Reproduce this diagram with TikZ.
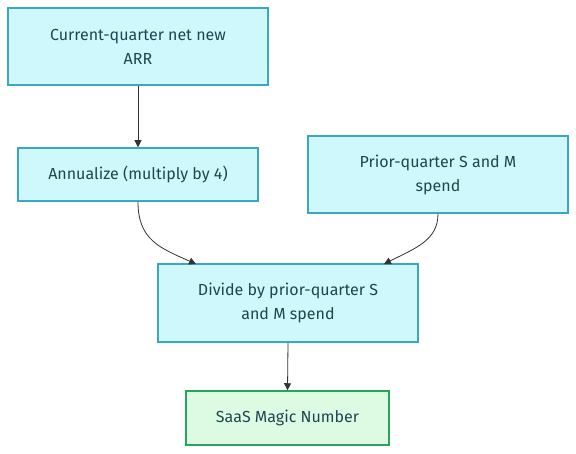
\documentclass[tikz,border=0pt]{standalone}
\usepackage{fontspec}
\setmainfont{Fira Sans}
\usetikzlibrary{arrows.meta}
\definecolor{procfill}{HTML}{CFF8FC}
\definecolor{procline}{HTML}{3AA8C4}
\definecolor{resfill}{HTML}{DDFBE3}
\definecolor{resline}{HTML}{27A55A}
\definecolor{txt}{HTML}{1F4650}
\definecolor{edge}{HTML}{333333}
\begin{document}
\begin{tikzpicture}[x=1pt,y=-1pt,
  box/.style={draw=procline,fill=procfill,line width=1.5pt,inner sep=0pt,
    text=txt,align=center,font=\fontsize{16}{24}\selectfont},
  result/.style={box,draw=resline,fill=resfill},
  link/.style={draw=edge,line width=0.8pt,-{Triangle[length=7pt,width=7pt]}}]
\useasboundingbox[fill=white] (0,0) rectangle (576,454);
\node[box,minimum width=260pt,minimum height=77pt] (cur) at (138,46.5) {Current-quarter net new\\ARR};
\node[box,minimum width=240pt,minimum height=53pt] (ann) at (138,174.5) {Annualize (multiply by 4)};
\node[box,minimum width=260pt,minimum height=77pt] (pri) at (438,174.5) {Prior-quarter S and M\\spend};
\node[box,minimum width=260pt,minimum height=78pt] (div) at (288,303) {Divide by prior-quarter S\\and M spend};
\node[result,minimum width=203pt,minimum height=54pt] (mag) at (287.5,418) {SaaS Magic Number};
\draw[link] (cur.south) -- (ann.north);
\draw[link] (ann.south) .. controls (138,240) and (160,248) .. (196,264);
\draw[link] (pri.south) .. controls (438,240) and (416,248) .. (384,264);
\draw[link] (div.south) -- (mag.north);
\end{tikzpicture}
\end{document}
